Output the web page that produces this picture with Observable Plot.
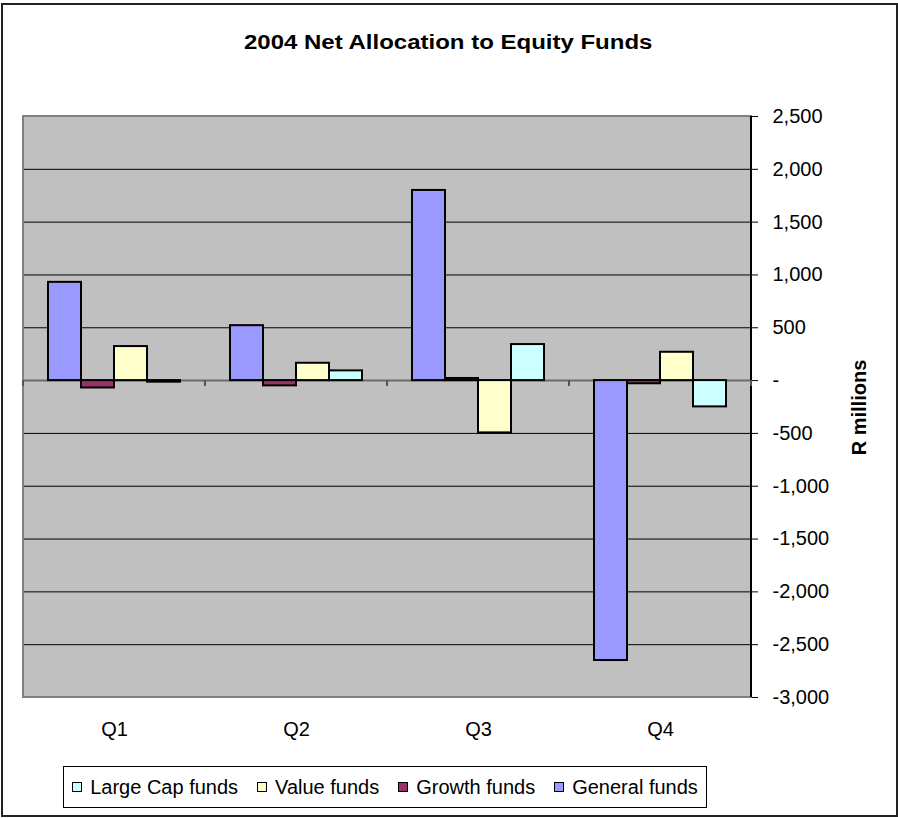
<!DOCTYPE html>
<html><head><meta charset="utf-8">
<script src="https://cdn.jsdelivr.net/npm/d3@7"></script>
<script src="https://cdn.jsdelivr.net/npm/@observablehq/plot@0.6"></script>
<style>
html,body{margin:0;padding:0;background:#fff;}
#wrap{position:relative;width:898px;height:818px;font-family:"Liberation Sans",Arial,sans-serif;overflow:hidden;color:#000;}
#chart{position:absolute;left:0;top:0;}
#border{position:absolute;left:1px;top:3px;width:897px;height:814px;border:2px solid #222;box-sizing:border-box;pointer-events:none;}
#title{position:absolute;left:0;top:32px;width:896px;text-align:center;font-size:20px;line-height:20px;font-weight:bold;}
#title span{display:inline-block;transform:scaleX(1.2);transform-origin:center;}
#legend{position:absolute;left:63px;top:766px;width:644px;height:42px;border:1px solid #000;box-sizing:border-box;display:flex;align-items:center;justify-content:center;gap:19px;background:#fff;}
.item{display:flex;align-items:center;font-size:20px;line-height:20px;white-space:nowrap;}
.sw{width:10px;height:10px;border:1px solid #000;box-sizing:border-box;margin-right:8px;}
</style></head><body>
<div id="wrap">
  <div id="chart"></div>
  <div id="title"><span>2004 Net Allocation to Equity Funds</span></div>
  <div id="legend"></div>
  <div id="border"></div>
</div>
<script>
const quarters = ["Q1", "Q2", "Q3", "Q4"];
const series = ["General funds", "Growth funds", "Value funds", "Large Cap funds"];
const general = [930, 520, 1800, -2650];
const growth = [-70, -50, 20, -30];
const valueFunds = [322, 164, -495, 268];
const largeCap = [-15, 92, 341, -249];
const colors = ["#9999FF", "#993366", "#FFFFCC", "#CCFFFF"];
const yTicks = [2500, 2000, 1500, 1000, 500, 0, -500, -1000, -1500, -2000, -2500, -3000];
const legendOrder = ["Large Cap funds", "Value funds", "Growth funds", "General funds"];
const yLabel = "R millions";

const seriesValues = [general, growth, valueFunds, largeCap];
const rows = [];
quarters.forEach((q, i) => series.forEach((s, j) => rows.push({quarter: q, series: s, value: seriesValues[j][i]})));

const fmt = d3.format(",");
const tickFmt = d => d === 0 ? "-" : fmt(d).replace("\u2212", "-");
const plot = Plot.plot({
  width: 898, height: 818,
  marginLeft: 22, marginRight: 147, marginTop: 116, marginBottom: 121,
  style: {fontFamily: "Liberation Sans, Arial, sans-serif", fontSize: "20px", background: "transparent", color: "#000", overflow: "visible"},
  fx: {domain: quarters, padding: 0, label: null, axis: "bottom", tickSize: 0, tickPadding: 24},
  x: {domain: series, paddingInner: 0, paddingOuter: 0.7, axis: null},
  y: {domain: [-3000, 2500], axis: "right", ticks: yTicks, tickSize: 6, tickPadding: 15,
      tickFormat: tickFmt, label: null},
  color: {domain: series, range: colors},
  marks: [
    Plot.ruleY(yTicks.filter(d => d !== 0), {stroke: "#000", strokeWidth: 1}),
    Plot.ruleY([0], {stroke: "#6a6a6a", strokeWidth: 2}),
    Plot.barY(rows, {fx: "quarter", x: "series", y: "value", fill: "series", stroke: "#000", strokeWidth: 2})
  ]
});
document.getElementById("chart").appendChild(plot);

// decorations derived from the plot's scales
const svg = d3.select(plot);
const fxS = plot.scale("fx"), yS = plot.scale("y");
const y0 = yS.apply(0), yTop = yS.apply(2500), yBot = yS.apply(-3000);
const xs = quarters.map(q => fxS.apply(q));
const xL = xs[0], xR = xs[xs.length - 1] + fxS.bandwidth;
svg.insert("rect", "g").attr("x", xL).attr("y", yTop).attr("width", xR - xL).attr("height", yBot - yTop)
  .attr("fill", "#C0C0C0");
svg.append("rect").attr("x", xL).attr("y", yTop).attr("width", xR - xL).attr("height", yBot - yTop)
  .attr("fill", "none").attr("stroke", "#808080").attr("stroke-width", 2);
svg.append("line").attr("x1", xR).attr("x2", xR).attr("y1", yTop).attr("y2", yBot)
  .attr("stroke", "#000").attr("stroke-width", 2);
[...xs, xR].forEach(x => svg.append("line").attr("x1", x).attr("x2", x).attr("y1", y0).attr("y2", y0 + 6)
  .attr("stroke", "#555").attr("stroke-width", 2));
svg.append("text").attr("transform", `translate(866,${(yTop + yBot) / 2 + 1}) rotate(-90)`)
  .attr("text-anchor", "middle").attr("font-weight", "bold").attr("font-size", 20).attr("fill", "#000").text(yLabel);

// legend
const lg = document.getElementById("legend");
legendOrder.forEach(name => {
  const it = document.createElement("div"); it.className = "item";
  const sw = document.createElement("div"); sw.className = "sw";
  sw.style.background = colors[series.indexOf(name)];
  const t = document.createElement("span"); t.textContent = name;
  it.appendChild(sw); it.appendChild(t); lg.appendChild(it);
});
</script>
</body></html>
